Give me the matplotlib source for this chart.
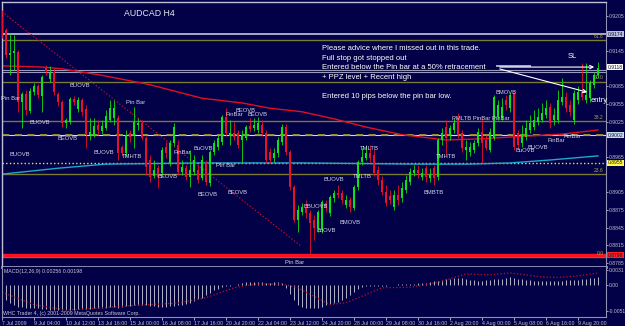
import numpy as np
import matplotlib.pyplot as plt
import matplotlib.transforms as mtrans

plt.rcParams['font.family'] = ['Liberation Sans', 'DejaVu Sans']

BG = '#020046'
GRID = '#c0c0d8'
BULL = '#10e010'
BEAR = '#e8102a'
W, H = 625, 326

# ---- AUDCAD H4 candles (prices in 1/10000) ----
opens = np.array([
    9203, 9181, 9139, 9142, 9144, 9059, 9072, 9043, 9076, 9086,
    9069, 9116, 9098, 9110, 9072, 9059, 9023, 9025, 9064, 9047,
    9062, 9047, 9003, 9003, 9020, 9009, 9014, 9028, 9031, 9031,
    8982, 8972, 9006, 9003, 9020, 9023, 8997, 8960, 8933, 8946,
    8938, 8982, 8955, 8989, 8986, 8940, 8946, 8931, 8940, 8943,
    8929, 8955, 8921, 8974, 8982, 8991, 9033, 9001, 9006, 9006,
    8994, 8997, 9018, 9014, 9011, 9020, 9006, 8974, 8963, 8972,
    8991, 9016, 8974, 8914, 8858, 8872, 8880, 8870, 8858, 8844,
    8841, 8887, 8870, 8895, 8904, 8904, 8884, 8892, 8878, 8914,
    8957, 8963, 8972, 8968, 8943, 8926, 8906, 8899, 8880, 8901,
    8895, 8909, 8923, 8938, 8943, 8931, 8946, 8929, 8946, 8931,
    8994, 9016, 9003, 9011, 9031, 9006, 8977, 8974, 8977, 8989,
    9008, 8994, 8977, 8997, 9033, 9033, 9062, 9048, 9074, 9006,
    8989, 8999, 9011, 9016, 9025, 9028, 9037, 9050, 9028, 9028,
    9059, 9067, 9054, 9028, 9062, 9076, 9062, 9065, 9088, 9104]) / 10000
highs = np.array([
    9215, 9184, 9176, 9173, 9147, 9076, 9079, 9082, 9091, 9089,
    9104, 9122, 9120, 9116, 9076, 9062, 9031, 9067, 9069, 9067,
    9065, 9054, 9031, 9031, 9028, 9028, 9045, 9062, 9062, 9037,
    8986, 9011, 9011, 9050, 9031, 9028, 9001, 8968, 8960, 8952,
    8982, 8991, 8994, 9023, 8994, 8960, 8952, 8977, 8968, 8952,
    8968, 8960, 8977, 8994, 9003, 9037, 9048, 9028, 9025, 9011,
    9011, 9020, 9031, 9031, 9033, 9028, 9011, 8980, 8980, 8999,
    9021, 9021, 8977, 8918, 8884, 8887, 8892, 8875, 8867, 8875,
    8892, 8892, 8901, 8909, 8918, 8909, 8901, 8897, 8918, 8960,
    8980, 8986, 8986, 8977, 8950, 8933, 8918, 8909, 8909, 8918,
    8923, 8935, 8946, 8952, 8952, 8946, 8952, 8946, 8952, 8997,
    9014, 9028, 9020, 9031, 9040, 9011, 8994, 8991, 8994, 9014,
    9031, 9003, 9014, 9071, 9062, 9065, 9071, 9074, 9076, 9011,
    9020, 9028, 9037, 9045, 9048, 9057, 9062, 9057, 9048, 9079,
    9099, 9076, 9062, 9079, 9086, 9125, 9125, 9096, 9110, 9127]) / 10000
lows = np.array([
    9167, 9133, 9104, 9113, 9042, 9014, 9037, 9040, 9071, 9065,
    9042, 9104, 9093, 9071, 9052, 9016, 9014, 9021, 9054, 9042,
    9035, 8980, 8994, 8999, 9003, 9004, 9011, 9025, 9020, 8960,
    8967, 8967, 8991, 8980, 9011, 8994, 8935, 8923, 8929, 8912,
    8933, 8963, 8950, 8984, 8935, 8935, 8926, 8914, 8935, 8921,
    8926, 8918, 8916, 8968, 8977, 8986, 9001, 8986, 8994, 8980,
    8957, 8994, 9008, 9009, 9006, 9001, 8955, 8955, 8957, 8965,
    8986, 8968, 8909, 8855, 8838, 8867, 8861, 8798, 8824, 8838,
    8836, 8872, 8865, 8889, 8895, 8885, 8878, 8872, 8875, 8909,
    8952, 8960, 8957, 8933, 8918, 8901, 8882, 8885, 8875, 8884,
    8889, 8904, 8918, 8933, 8929, 8926, 8923, 8923, 8918, 8926,
    8986, 8968, 8994, 9006, 8997, 8974, 8960, 8967, 8972, 8984,
    8955, 8977, 8974, 8994, 9028, 9028, 9045, 9042, 8977, 8980,
    8982, 8994, 9006, 9011, 9020, 9025, 9031, 9014, 9020, 9023,
    9054, 9042, 9035, 9021, 9055, 9062, 9057, 9059, 9082, 9099]) / 10000
closes = np.array([
    9173, 9139, 9142, 9145, 9059, 9072, 9045, 9077, 9086, 9071,
    9101, 9111, 9108, 9076, 9059, 9023, 9028, 9064, 9059, 9062,
    9042, 9003, 9008, 9018, 9011, 9018, 9035, 9048, 9048, 8972,
    8972, 9003, 8999, 9025, 9023, 8997, 8948, 8931, 8943, 8931,
    8977, 8972, 8989, 9016, 8940, 8948, 8931, 8943, 8960, 8926,
    8960, 8923, 8974, 8989, 8997, 9033, 9006, 9006, 8999, 8986,
    9003, 9016, 9013, 9020, 9023, 9006, 8960, 8960, 8972, 8994,
    9016, 8974, 8914, 8858, 8875, 8880, 8870, 8853, 8844, 8872,
    8889, 8878, 8897, 8904, 8901, 8892, 8892, 8880, 8914, 8957,
    8965, 8972, 8963, 8938, 8926, 8906, 8887, 8892, 8901, 8892,
    8912, 8926, 8940, 8943, 8938, 8938, 8931, 8936, 8929, 8994,
    9006, 8997, 9014, 9023, 9003, 8980, 8982, 8982, 8989, 9008,
    8989, 8980, 9008, 9067, 9054, 9050, 9054, 9071, 8982, 8986,
    9003, 9014, 9023, 9028, 9033, 9040, 9048, 9023, 9037, 9062,
    9067, 9048, 9042, 9074, 9076, 9067, 9071, 9091, 9104, 9116]) / 10000

# moving averages (read at sample bars)
ma_red_bars = [0, 10, 15, 25, 37, 50, 60, 67, 75, 83, 91, 100, 111, 120, 127, 140, 149]
ma_red = [0.9120, 0.9118, 0.9115, 0.9104, 0.9088, 0.9065, 0.9057, 0.9048, 0.9042,
          0.9030, 0.9016, 0.9003, 0.8994, 0.8996, 0.8999, 0.9004, 0.9011]
ma_cyan_bars = [0, 7, 14, 26, 50, 75, 104, 117, 127, 137, 149]
ma_cyan = [0.8936, 0.8941, 0.8946, 0.8953, 0.8955, 0.8955, 0.8953, 0.8953, 0.8955, 0.8960, 0.8967]
trend_bars = [0, 74.5]
trend_prices = [0.9212, 0.8815]

# fibonacci levels and other horizontal lines
fib_prices = [0.9164, 0.9093, 0.9026, 0.8936, 0.8795]
fib_labels = ['61.8', '50.0', '38.2', '23.6', '0.0']
box_prices = [0.9174, 0.9118, 0.9002, 0.8955, 0.8798]
box_colors = ['#b8c0e0', '#ffffff', '#c8dcf0', '#ffff40', '#ff2020']
price_ticks = [0.9205, 0.9145, 0.9085, 0.9055, 0.9025, 0.8965,
               0.8905, 0.8875, 0.8845, 0.8815, 0.8785]

# annotation arrows
sl_arrow = [(123.75, 0.9118), (148.75, 0.9118)]
entry_arrow = [(123.75, 0.9116), (147.0, 0.9074)]

# MACD (1/10000)
macd_hist = np.array([
    -25, -30, -35, -39, -43, -44, -45, -45, -45, -46,
    -47, -48, -50, -50, -50, -50, -50, -50, -49, -48,
    -48, -48, -47, -46, -45, -45, -45, -44, -44, -45,
    -44, -42, -41, -40, -40, -40, -40, -41, -42, -43,
    -43, -43, -42, -41, -40, -40, -38, -35, -32, -28,
    -25, -20, -15, -10, -7, -4, -2, -1, 0, 3,
    5, 6, 6, 6, 6, 6, 5, 5, 6, 6,
    5, -5, -18, -30, -40, -43, -45, -46, -46, -45,
    -44, -40, -37, -35, -34, -30, -25, -20, -14, -8,
    -4, -2, -2, -2, -2, -1, -1, 1, 1, 2,
    2, 2, 2, 3, 5, 5, 5, 6, 8, 9,
    11, 12, 13, 14, 15, 14, 12, 11, 10, 9,
    9, 10, 11, 12, 12, 13, 15, 17, 15, 13,
    12, 11, 10, 9, 9, 9, 9, 9, 9, 9,
    9, 10, 10, 10, 11, 12, 13, 14, 15, 16]) / 10000
signal_bars = [0, 8, 16, 24, 34, 44, 51, 58, 63, 70, 74, 77, 82, 86, 90, 95,
               102, 109, 116, 122, 127, 135, 139, 144, 149]
signal = np.array([-14, -39, -50, -46, -40, -36, -25, -5, 2, 3, -5, -18, -39, -35,
                   -22, -5, -4, 6, 23, 21, 25, 17, 16, 19, 25]) / 10000

time_bars = list(range(0, 150, 8))
time_labels = ['7 Jul 2009', '9 Jul 04:00', '10 Jul 12:00', '13 Jul 16:00', '15 Jul 00:00',
               '16 Jul 08:00', '17 Jul 16:00', '20 Jul 20:00', '22 Jul 04:00', '23 Jul 12:00',
               '24 Jul 20:00', '28 Jul 00:00', '29 Jul 08:00', '30 Jul 16:00', '2 Aug 20:00',
               '4 Aug 00:00', '5 Aug 08:00', '6 Aug 16:00', '9 Aug 20:00']

# pattern labels: (text, x px, y px)
pattern_labels = [
    ('Pin Bar', 1, 98), ('BUOVB', 70, 85), ('BUOVB', 30, 122), ('BEOVB', 58, 138),
    ('BUOVB', 10, 155), ('BUOVB', 94, 152), ('TMHTB', 122, 157), ('Pin Bar', 126, 102),
    ('BEOVB', 157, 177), ('PinBar', 173, 152), ('BuOVB', 193, 148), ('BEOVB', 197, 194),
    ('BEOVB', 228, 192), ('Pin Bar', 216, 166), ('BEOVB', 236, 111), ('PinBar', 225, 115),
    ('BEOVB', 248, 115), ('TMLTB', 360, 148), ('TMLTB', 353, 177), ('BUOVB', 324, 179),
    ('BBUOVB', 304, 207), ('BMOVB', 340, 222), ('BuOVB', 316, 231), ('Pin Bar', 285, 262),
    ('TMHTB', 436, 156), ('BMBTB', 424, 193), ('BuOVB', 516, 151), ('BUOVB', 527, 147),
    ('PinBar', 547, 141), ('PinBar', 563, 137), ('BMOVB', 496, 93),
    ('PMLTB PinBar PinBar', 452, 118),
]
note_lines = ['Please advice where I missed out in this trade.',
              'Full stop got stopped out',
              'Entered below the Pin bar at a 50% retracement',
              '+ PPZ level + Recent high',
              '',
              'Entered 10 pips below the pin bar low.']

fig = plt.figure(figsize=(W / 100, H / 100), dpi=100, facecolor=BG)
ax = fig.add_axes([2 / W, 1 - 267 / H, 604 / W, 265 / H], facecolor=BG)
ax2 = fig.add_axes([2 / W, 1 - 317 / H, 604 / W, 50 / H], facecolor=BG)

def px(x, y):
    return x / W, 1 - y / H

n = len(opens)
bars = np.arange(n)

# horizontal levels
for p in fib_prices:
    ax.axhline(p, color='#7a7a30', lw=1.0, zorder=1)
ax.axhline(0.9174, color='#a8a8cc', lw=1.4, zorder=1)
ax.axhline(0.9113, color='#9898c0', lw=0.8, zorder=1)
ax.axhline(0.9110, color='#9898c0', lw=0.8, zorder=1)
ax.axhline(0.9002, color='#d8d8e8', lw=0.8, zorder=1)
ax.axhline(0.9002, color='#a09a30', lw=1.3, dashes=(4, 3), zorder=1)
ax.axhline(0.8955, color='#e8e840', lw=1.0, ls=':', zorder=1)
ax.axhline(0.8798, color='#ff1020', lw=2.5, zorder=1)

# moving averages and trend line
ax.plot(ma_red_bars, ma_red, color='#e01020', lw=1.0, zorder=2)
ax.plot(ma_cyan_bars, ma_cyan, color='#20a8c8', lw=1.0, zorder=2)
ax.plot(trend_bars, trend_prices, color='#c01030', lw=0.9, ls=':', zorder=2)

# candles
up = closes >= opens
colors = np.where(up, BULL, BEAR)
ax.vlines(bars, lows, highs, colors=colors, lw=0.6, zorder=3)
body_low = np.minimum(opens, closes)
body_h = np.maximum(np.abs(closes - opens), 0.00012)
ax.bar(bars, body_h, bottom=body_low, width=0.6, color=colors, lw=0, zorder=4)

# annotation arrows
ax.plot([123.75, 132], [0.9120, 0.9120], color='#a8a8d0', lw=1.4, zorder=5)
ax.annotate('', xy=sl_arrow[1], xytext=sl_arrow[0],
            arrowprops=dict(arrowstyle='->', color='white', lw=0.8, mutation_scale=6),
            annotation_clip=False, zorder=6)
ax.annotate('', xy=entry_arrow[1], xytext=entry_arrow[0],
            arrowprops=dict(arrowstyle='->', color='white', lw=0.8, mutation_scale=6),
            annotation_clip=False, zorder=6)

ax.set_xlim(0, 151)
ax.set_ylim(0.87781, 0.92286)
ax.set_xticks([])
ax.yaxis.tick_right()
ax.set_yticks(price_ticks)
ax.set_yticklabels(['%.4f' % v for v in price_ticks])
ax.tick_params(axis='y', colors='#c0c0d0', labelsize=3.7, length=1.2, width=0.6, pad=0.6)
for side in ['left', 'top']:
    ax.spines[side].set_color(GRID)
    ax.spines[side].set_linewidth(1.0)
ax.spines['right'].set_color('#9090b0')
ax.spines['right'].set_linewidth(0.8)
ax.spines['bottom'].set_color('#9898b8')
ax.spines['bottom'].set_linewidth(2.0)

# fib level text and price boxes
blend = mtrans.blended_transform_factory(ax.transAxes, ax.transData)
for p, lab in zip(fib_prices, fib_labels):
    ax.annotate(lab, xy=(0.996, p), xycoords=blend, xytext=(0, 1), textcoords='offset points',
                ha='right', va='bottom', fontsize=3.6, color='#b0a840')
for p, c in zip(box_prices, box_colors):
    ax.text(1.003, p, '%.4f' % p, transform=blend, ha='left', va='center', fontsize=3.6,
            color='#101030', clip_on=False, zorder=10,
            bbox=dict(boxstyle='square,pad=0.1', fc=c, ec='none'))

# MACD panel
ax2.vlines(bars, 0, macd_hist, colors='#b4b4c8', lw=0.7)
ax2.plot(signal_bars, signal, color='#c01020', lw=0.9, ls=':')
ax2.set_xlim(0, 151)
ax2.set_ylim(-0.0064, 0.0037)
ax2.yaxis.tick_right()
ax2.set_yticks([0.0031, 0.0, -0.00513])
ax2.set_yticklabels(['0.0031', '0.00', '-0.0051'])
ax2.tick_params(axis='y', colors='#c0c0d0', labelsize=3.6, length=1.2, width=0.6, pad=0.6)
ax2.set_xticks(time_bars)
ax2.set_xticklabels(time_labels, ha='left')
ax2.tick_params(axis='x', colors='#c0c0d0', labelsize=3.8, length=2, width=0.6, pad=1)
for side in ['left', 'right', 'bottom']:
    ax2.spines[side].set_color('#9090b0')
    ax2.spines[side].set_linewidth(0.8)
ax2.spines['top'].set_visible(False)

# texts
fig.text(*px(124, 13), 'AUDCAD H4', color='#e8e8f0', fontsize=6.3, va='center')
for k, line in enumerate(note_lines):
    fig.text(*px(322, 49 + 9.4 * k), line, color='white', fontsize=5.5, va='center')
fig.text(*px(568, 57), 'SL', color='white', fontsize=5.5, va='center')
fig.text(*px(591, 100), 'entry', color='white', fontsize=5.5, va='center')
for txt, x, y in pattern_labels:
    fig.text(*px(x, y), txt, color='#d4d4e4', fontsize=4.2, va='center')
fig.text(*px(4, 272), 'MACD(12,26,9) 0.00256 0.00198', color='#c8c8d8', fontsize=3.8, va='center')
fig.text(*px(3, 313), 'WHC Trader 4, (c) 2001-2009 MetaQuotes Software Corp.', color='#c8c8d8',
         fontsize=3.8, va='center')

plt.savefig('out.png', dpi=100, facecolor=BG)
